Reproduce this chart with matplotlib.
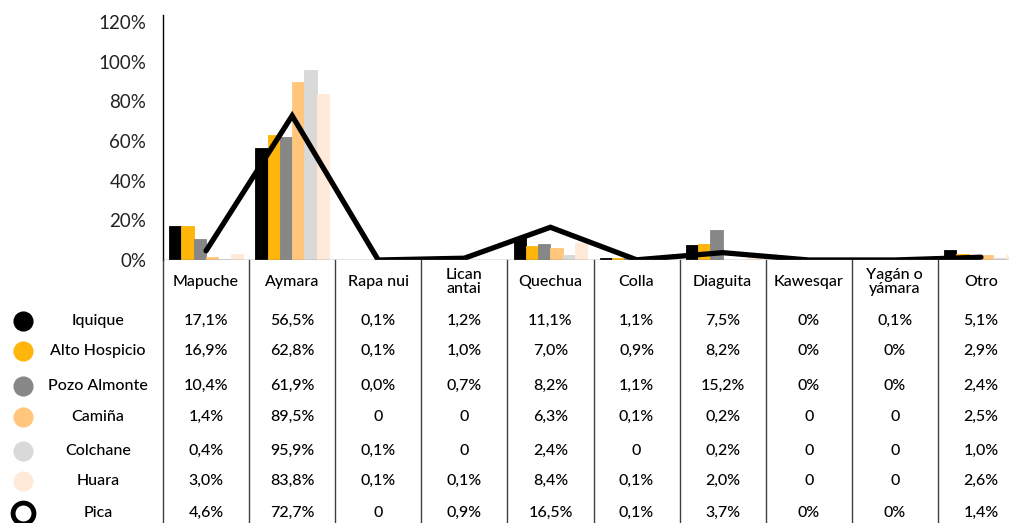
import matplotlib.pyplot as plt
from matplotlib.lines import Line2D
from matplotlib.transforms import blended_transform_factory
import numpy as np

plt.rcParams['font.family'] = ['Lato', 'DejaVu Sans']

# categories and table rows (labels as printed in the data table)
categories = ["Mapuche", "Aymara", "Rapa nui", "Lican\nantai", "Quechua",
              "Colla", "Diaguita", "Kawesqar", "Yagán o\nyámara", "Otro"]

iquique = ["17,1%", "56,5%", "0,1%", "1,2%", "11,1%", "1,1%", "7,5%", "0%", "0,1%", "5,1%"]
alto_hospicio = ["16,9%", "62,8%", "0,1%", "1,0%", "7,0%", "0,9%", "8,2%", "0%", "0%", "2,9%"]
pozo_almonte = ["10,4%", "61,9%", "0,0%", "0,7%", "8,2%", "1,1%", "15,2%", "0%", "0%", "2,4%"]
camina = ["1,4%", "89,5%", "0", "0", "6,3%", "0,1%", "0,2%", "0", "0", "2,5%"]
colchane = ["0,4%", "95,9%", "0,1%", "0", "2,4%", "0", "0,2%", "0", "0", "1,0%"]
huara = ["3,0%", "83,8%", "0,1%", "0,1%", "8,4%", "0,1%", "2,0%", "0", "0", "2,6%"]
pica = ["4,6%", "72,7%", "0", "0,9%", "16,5%", "0,1%", "3,7%", "0%", "0%", "1,4%"]

bar_series = [("Iquique", iquique, "#000000"),
              ("Alto Hospicio", alto_hospicio, "#FFB50A"),
              ("Pozo Almonte", pozo_almonte, "#878787"),
              ("Camiña", camina, "#FFC67C"),
              ("Colchane", colchane, "#D9D9D9"),
              ("Huara", huara, "#FFE9D8")]

y_ticks = [0, 0.2, 0.4, 0.6, 0.8, 1.0, 1.2]


def to_num(s):
    return float(s.replace('%', '').replace(',', '.')) / 100


W, H = 1009, 523
fig = plt.figure(figsize=(W / 100, H / 100), dpi=100)
# axes extends past the right edge, as in the cropped original
ax = fig.add_axes([163 / W, (H - 260) / H, (1024 - 163) / W, (260 - 15) / H])

x = np.arange(len(categories))
bw = 0.143
for j, (name, labels, color) in enumerate(bar_series):
    vals = [to_num(s) for s in labels]
    ax.bar(x + (j - 2.5) * bw, vals, width=bw, color=color,
           edgecolor=color, linewidth=0.6, zorder=2)

ax.plot(x, [to_num(s) for s in pica], color="black", lw=3.8,
        solid_capstyle="round", solid_joinstyle="miter", zorder=3)

ax.set_xlim(-0.5, len(categories) - 0.5)
ax.set_ylim(0, 1.235)
ax.set_yticks(y_ticks)
ax.set_yticklabels([f"{int(round(t * 100))}%" for t in y_ticks], fontsize=13.5,
                   color="#222222")
ax.tick_params(axis='y', length=0, pad=12)
ax.set_xticks([])
for s in ["top", "right", "bottom"]:
    ax.spines[s].set_visible(False)
ax.spines["left"].set_linewidth(1.0)
ax.axhline(0, color="#7f7f7f", lw=1.0, zorder=4)

# data table below the plot
tr = blended_transform_factory(ax.transData, fig.transFigure)
fy = lambda py: 1 - py / H
for k in range(len(categories) + 1):
    fig.add_artist(Line2D([k - 0.5, k - 0.5], [fy(260), 0], transform=tr,
                          color="#404040", lw=1.0))

txt = dict(fontsize=11.5, color="black", fontweight="medium")
for i, c in enumerate(categories):
    ax.text(i, fy(282), c, transform=tr, ha="center", va="center",
            linespacing=1.05, **txt)

row_y = [321, 351, 386, 417, 451, 481, 513]
rows = [(n, l, c) for n, l, c in bar_series] + [("Pica", pica, None)]
for (name, labels, color), py in zip(rows, row_y):
    for i, s in enumerate(labels):
        ax.text(i, fy(py), s, transform=tr, ha="center", va="center", **txt)
    fig.text(98 / W, fy(py), name, ha="center", va="center", **txt)
    if color is None:
        mk = Line2D([23 / W], [fy(py)], marker="o", markersize=15,
                    markerfacecolor="white", markeredgecolor="black",
                    markeredgewidth=3.5, transform=fig.transFigure)
    else:
        mk = Line2D([23 / W], [fy(py)], marker="o", markersize=13.5,
                    markerfacecolor=color, markeredgecolor=color,
                    transform=fig.transFigure)
    fig.add_artist(mk)

fig.savefig("out.png", dpi=100)
